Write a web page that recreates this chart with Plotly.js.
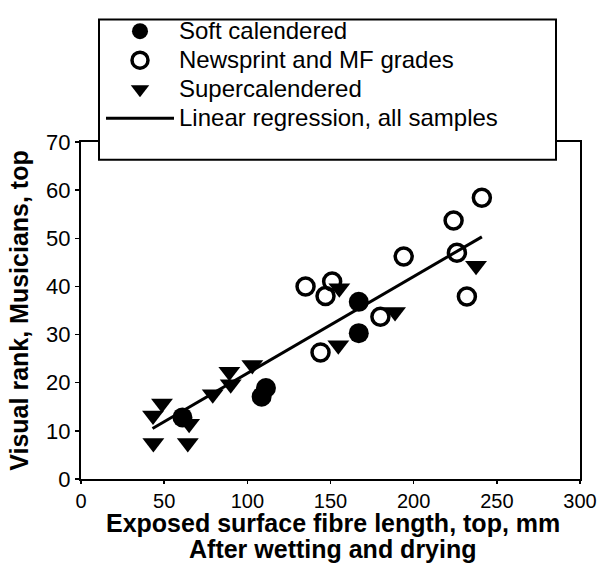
<!DOCTYPE html>
<html>
<head>
<meta charset="utf-8">
<script src="https://cdn.plot.ly/plotly-3.0.1.min.js"></script>
<style>html,body{margin:0;padding:0;background:#fff;}#chart{width:598px;height:571px;}</style>
</head>
<body>
<div id="chart"></div>
<script>
// Soft calendered (filled circles)
const softX = [61, 108.6, 111.2, 167, 167];
const softY = [12.8, 17.1, 18.9, 36.8, 30.3];
// Newsprint and MF grades (open circles)
const newsX = [135, 147, 151, 144, 180, 194, 224, 241, 226, 232];
const newsY = [40, 38, 41, 26.3, 33.7, 46.2, 53.7, 58.4, 47, 37.9];
// Supercalendered (down triangles)
const superX = [48.7, 43.3, 43.5, 64.2, 65, 79.2, 89.2, 90, 103, 155.3, 154.7, 188.8, 237.5];
const superY = [15.7, 13.2, 7.5, 7.5, 11.5, 17.6, 22.3, 19.7, 23.7, 39.6, 27.8, 34.7, 44.3];
// Linear regression, all samples
const regX = [43, 241];
const regY = [10.5, 50.3];

const seriesNames = ["Soft calendered", "Newsprint and MF grades", "Supercalendered", "Linear regression, all samples"];
const xTicks = [0, 50, 100, 150, 200, 250, 300];
const yTicks = [0, 10, 20, 30, 40, 50, 60, 70];
const xTitleLines = ["Exposed surface fibre length, top, mm", "After wetting and drying"];
const yTitle = "Visual rank, Musicians, top";

const FONT = "Liberation Sans, Arial, Helvetica, sans-serif";
const big = s => '<span style="font-size:24px">' + s + '</span>';

const traces = [
  {x: softX, y: softY, name: big(seriesNames[0]), type: "scatter", mode: "markers",
   marker: {symbol: "circle", size: 20, color: "#000"}},
  {x: newsX, y: newsY, name: big(seriesNames[1]), type: "scatter", mode: "markers",
   marker: {symbol: "circle-open", size: 17, color: "#000", line: {width: 3.5, color: "#000"}}},
  {x: superX, y: superY, name: big(seriesNames[2]), type: "scatter", mode: "markers",
   marker: {symbol: "triangle-down", size: 19, color: "#000"}},
  {x: regX, y: regY, name: big(seriesNames[3]), type: "scatter", mode: "lines",
   line: {color: "#000", width: 3}}
];

const L = 81, R = 580, T = 135, B = 479;
const pw = R - L, ph = B - T;
function px2x(p){ return (p - L) / pw; }
function px2y(p){ return (B - p) / ph; }

const layout = {
  width: 598, height: 571,
  margin: {l: L, r: 598 - R, t: T, b: 571 - B, pad: 0},
  paper_bgcolor: "#fff", plot_bgcolor: "#fff",
  font: {family: FONT, color: "#000"},
  showlegend: true,
  legend: {
    x: px2x(101), y: px2y(2), xanchor: "left", yanchor: "top",
    bgcolor: "rgba(0,0,0,0)", borderwidth: 0,
    font: {family: FONT, size: 20, color: "#000"},
    itemwidth: 68, traceorder: "normal"
  },
  xaxis: {
    range: [0, 300], tickvals: xTicks, ticktext: xTicks.map(String),
    ticks: "outside", ticklen: 3, tickwidth: 1.5, tickcolor: "#000",
    showline: true, linewidth: 2, linecolor: "#000", mirror: true,
    showgrid: false, zeroline: false, ticklabeloverflow: "allow",
    tickfont: {family: FONT, size: 20, color: "#000"}
  },
  yaxis: {
    range: [0, 70], tickvals: yTicks, ticktext: yTicks.map(String),
    ticks: "outside", ticklen: 4, tickwidth: 1.5, tickcolor: "#000",
    showline: true, linewidth: 2, linecolor: "#000", mirror: true,
    showgrid: false, zeroline: false, ticklabeloverflow: "allow",
    tickfont: {family: FONT, size: 22, color: "#000"},
    title: {text: yTitle, font: {family: FONT, size: 25, color: "#000", weight: "bold"}, standoff: 10}
  },
  annotations: [
    {text: xTitleLines[0], xref: "paper", yref: "paper", x: px2x(333), y: px2y(524),
     xanchor: "center", yanchor: "middle", showarrow: false,
     font: {family: FONT, size: 25, color: "#000", weight: "bold"}},
    {text: xTitleLines[1], xref: "paper", yref: "paper", x: px2x(333), y: px2y(550),
     xanchor: "center", yanchor: "middle", showarrow: false,
     font: {family: FONT, size: 25, color: "#000", weight: "bold"}}
  ],
  shapes: [{
    type: "rect", xref: "paper", yref: "paper", layer: "above",
    x0: px2x(99), x1: px2x(556), y0: px2y(153), y1: px2y(10),
    fillcolor: "#fff", line: {color: "#000", width: 2}
  }]
};

Plotly.newPlot("chart", traces, layout, {displayModeBar: false, staticPlot: true});
</script>
</body>
</html>
